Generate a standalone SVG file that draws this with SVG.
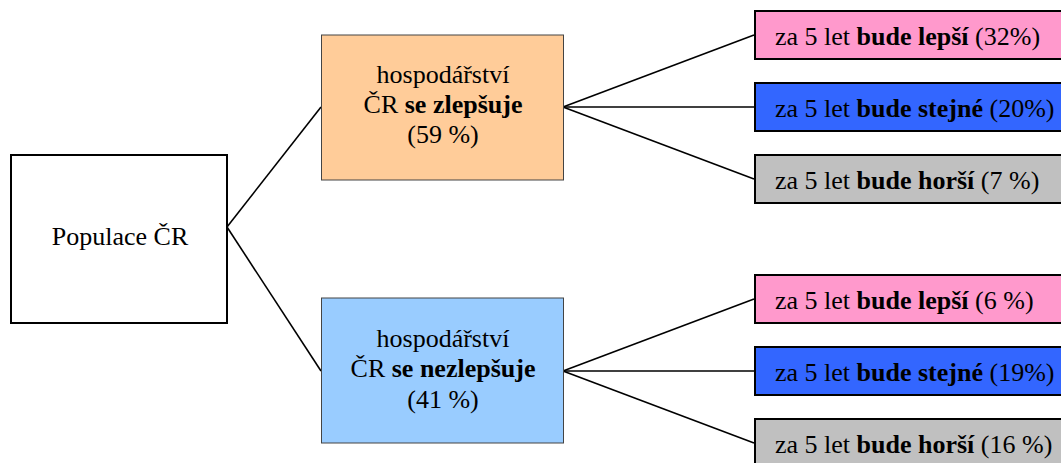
<svg xmlns="http://www.w3.org/2000/svg" width="1061" height="463" viewBox="0 0 1061 463">
  <style>
    text { font-family: "Liberation Serif", Tinos, "Times New Roman", Times, "Nimbus Roman", "DejaVu Serif", serif; font-size: 26px; fill: #000; }
    .b { font-weight: bold; }
    .mid { text-anchor: middle; }
    .leaf { stroke: #000; stroke-width: 2; }
    .root { fill: #fff; stroke: #000; stroke-width: 2; }
    .branch { stroke: #444; stroke-width: 1; }
    .conn line { stroke: #000; stroke-width: 1.6; }
  </style>
  <rect width="1061" height="463" fill="#fff"/>
  <g id="connectors" class="conn">
    <line x1="227" y1="227" x2="321" y2="107"/>
    <line x1="227" y1="227" x2="321" y2="371"/>
    <line x1="563" y1="107" x2="754" y2="35"/>
    <line x1="563" y1="107" x2="754" y2="107"/>
    <line x1="563" y1="107" x2="754" y2="179"/>
    <line x1="563" y1="371" x2="754" y2="299"/>
    <line x1="563" y1="371" x2="754" y2="371"/>
    <line x1="563" y1="371" x2="754" y2="443"/>
  </g>
  <g id="root">
    <rect class="root" x="11" y="155" width="216" height="168"/>
    <text class="mid" x="120" y="245" font-family="Liberation Serif, serif">Populace ČR</text>
  </g>
  <g id="improves">
    <rect class="branch" x="321.5" y="35" width="242" height="145" fill="#FFCC99"/>
    <text class="mid" x="443" y="83">hospodářství</text>
    <text class="mid" x="443" y="113">ČR <tspan class="b">se zlepšuje</tspan></text>
    <text class="mid" x="443" y="143">(59 %)</text>
  </g>
  <g id="notimproves">
    <rect class="branch" x="321.5" y="298" width="242" height="145" fill="#99CCFF"/>
    <text class="mid" x="443" y="347">hospodářství</text>
    <text class="mid" x="443" y="377">ČR <tspan class="b">se nezlepšuje</tspan></text>
    <text class="mid" x="443" y="408">(41 %)</text>
  </g>
  <g id="i-better">
    <rect class="leaf" x="755" y="11" width="320" height="48" fill="#FF99CC"/>
    <text x="775" y="44.5">za 5 let <tspan class="b">bude lepší</tspan> (32%)</text>
  </g>
  <g id="i-same">
    <rect class="leaf" x="755" y="83" width="320" height="48" fill="#3366FF"/>
    <text x="775" y="116.5">za 5 let <tspan class="b">bude stejné</tspan> (20%)</text>
  </g>
  <g id="i-worse">
    <rect class="leaf" x="755" y="155" width="320" height="48" fill="#C0C0C0"/>
    <text x="775" y="188.5">za 5 let <tspan class="b">bude horší</tspan> (7 %)</text>
  </g>
  <g id="n-better">
    <rect class="leaf" x="755" y="275" width="320" height="48" fill="#FF99CC"/>
    <text x="775" y="308.5">za 5 let <tspan class="b">bude lepší</tspan> (6 %)</text>
  </g>
  <g id="n-same">
    <rect class="leaf" x="755" y="347" width="320" height="48" fill="#3366FF"/>
    <text x="775" y="380.5">za 5 let <tspan class="b">bude stejné</tspan> (19%)</text>
  </g>
  <g id="n-worse">
    <rect class="leaf" x="755" y="419" width="320" height="48" fill="#C0C0C0"/>
    <text x="775" y="452.5">za 5 let <tspan class="b">bude horší</tspan> (16 %)</text>
  </g>
</svg>
